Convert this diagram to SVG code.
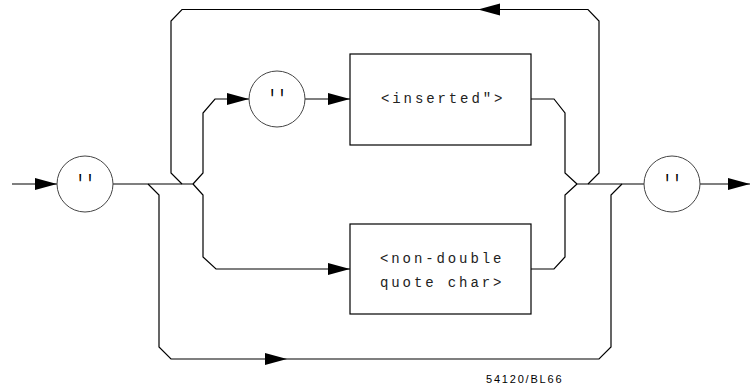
<svg xmlns="http://www.w3.org/2000/svg" width="754" height="389" viewBox="0 0 754 389">
<style>
.ln{fill:none;stroke:#000;stroke-width:1.2}
.bx{fill:#fff;stroke:#000;stroke-width:1.2}
.cr{fill:#fff;stroke:#444;stroke-width:1}
.ah{fill:#000}
.t{font-family:"Liberation Mono","DejaVu Sans Mono",monospace;font-size:14px;letter-spacing:2.9px;fill:#222}
.q{font-family:"Liberation Sans",Arial,sans-serif;font-size:18px;letter-spacing:6.2px;fill:#000}
.lb{font-family:"Liberation Sans",Arial,sans-serif;font-size:11px;letter-spacing:1.8px;fill:#000}
</style>
<defs>
<path id="ah" d="M0,0 L-22,-6 L-22,6 Z"/>
</defs>
<rect width="754" height="389" fill="#fff"/>
<g id="connectors">
<path class="ln" d="M12,184 H57"/>
<path class="ln" d="M113,184 H193"/>
<path class="ln" d="M148,184 L159,195 V347 L171,359 H599 L611,347 V195 L622,184"/>
<path class="ln" d="M588,184 L599,173 V21 L588,9.5 H182 L171,21 V173 L182,184"/>
<path class="ln" d="M193,184 L203,173 V113 L215,99 H249"/>
<path class="ln" d="M305,99 H350"/>
<path class="ln" d="M531,99 H554 L565,113 V173 L577,184"/>
<path class="ln" d="M193,184 L203,195 V257 L216,269 H350"/>
<path class="ln" d="M531,269 H554 L565,257 V195 L577,184"/>
<path class="ln" d="M577,184 H644"/>
<path class="ln" d="M700,184 H750"/>
<use href="#ah" class="ah" transform="translate(57,184)"/>
<use href="#ah" class="ah" transform="translate(249,99)"/>
<use href="#ah" class="ah" transform="translate(350,99)"/>
<use href="#ah" class="ah" transform="translate(350,269)"/>
<use href="#ah" class="ah" transform="translate(750,184)"/>
<use href="#ah" class="ah" transform="translate(478,9.5) rotate(180)"/>
<use href="#ah" class="ah" transform="translate(287,359)"/>
</g>
<g id="quote-in">
<circle class="cr" cx="85" cy="184" r="28"/>
<text class="q" transform="translate(78.5,196.5) scale(1,1.85)">''</text>
</g>
<g id="quote-inner">
<circle class="cr" cx="277" cy="99" r="28"/>
<text class="q" transform="translate(270.5,111.5) scale(1,1.85)">''</text>
</g>
<g id="inserted">
<rect class="bx" x="350" y="54" width="181" height="91"/>
<text class="t" x="381" y="103">&lt;inserted"&gt;</text>
</g>
<g id="non-double-quote-char">
<rect class="bx" x="350" y="224" width="181" height="90"/>
<text class="t" x="380" y="263">&lt;non-double</text>
<text class="t" x="380" y="287">quote char&gt;</text>
</g>
<g id="quote-out">
<circle class="cr" cx="672" cy="184" r="28"/>
<text class="q" transform="translate(665.5,196.5) scale(1,1.85)">''</text>
</g>
<text class="lb" x="486" y="383">54120/BL66</text>
</svg>
